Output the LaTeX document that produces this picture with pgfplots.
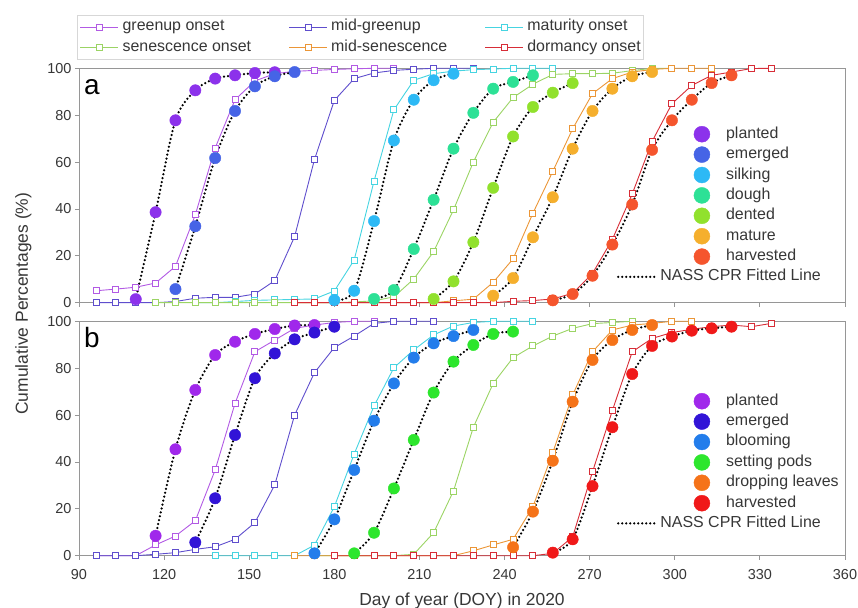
\documentclass[border=0pt]{standalone}
\usepackage{pgfplots}
\pgfplotsset{compat=1.18}
\usepackage{pgfplotstable}
\usepackage{fontspec}
\setmainfont{Liberation Sans}

\definecolor{cGO}{RGB}{178,90,228}
\definecolor{cMG}{RGB}{95,78,205}
\definecolor{cMO}{RGB}{70,212,225}
\definecolor{cSO}{RGB}{155,212,100}
\definecolor{cMS}{RGB}{235,150,55}
\definecolor{cDO}{RGB}{215,45,55}
% panel a circles
\definecolor{aPL}{RGB}{140,50,235}
\definecolor{aEM}{RGB}{70,100,230}
\definecolor{aSI}{RGB}{45,185,245}
\definecolor{aDO}{RGB}{45,225,150}
\definecolor{aDE}{RGB}{145,225,45}
\definecolor{aMA}{RGB}{245,175,45}
\definecolor{aHA}{RGB}{245,85,45}
% panel b circles
\definecolor{bPL}{RGB}{160,40,235}
\definecolor{bEM}{RGB}{50,20,215}
\definecolor{bBL}{RGB}{35,125,235}
\definecolor{bSP}{RGB}{45,230,45}
\definecolor{bDL}{RGB}{245,115,25}
\definecolor{bHA}{RGB}{240,25,25}
\definecolor{caxis}{RGB}{150,150,150}
\definecolor{ctick}{RGB}{55,55,55}

% ---------------- panel a: remote-sensing (squares) ----------------
\pgfplotstableread{
x y
96 5.1
103 5.8
110 6.6
117 8.4
124 15.5
131 37.5
138 66
145 86.6
152 94.6
159 97.7
166 98.7
173 99.1
180 99.5
187 99.8
194 100
201 100
}\aGO
\pgfplotstableread{
x y
96 0
103 0
110 0
117 0
124 0.5
131 1.9
138 2.3
145 2.3
152 3.7
159 9.4
166 28.2
173 61.1
180 86.3
187 95.6
194 98
201 99.1
208 99.6
215 100
222 100
229 100
}\aMG
\pgfplotstableread{
x y
131 0
138 0
145 0.5
152 1
159 1.2
166 1.4
173 1.6
180 5
187 18.2
194 51.9
201 82.3
208 94.9
215 97.7
222 98.8
229 99.4
236 99.7
243 100
250 100
257 100
}\aMO
\pgfplotstableread{
x y
117 0
124 0
131 0
138 0
145 0
152 0
159 0
166 0
173 0
180 0
187 0.3
194 0.8
201 2.5
208 10.1
215 21.8
222 39.6
229 60
236 77
243 87.5
250 93.2
257 97.4
264 97.7
271 97.7
278 97.9
285 99
292 100
299 100
}\aSO
\pgfplotstableread{
x y
166 0
173 0
180 0
187 0
194 0
201 0
208 0
215 0
222 0.8
229 1.5
236 8.7
243 18.7
250 38.2
257 56
264 74.2
271 89.2
278 95.6
285 98.4
292 99.5
299 100
306 100
313 100
}\aMS
\pgfplotstableread{
x y
166 0
173 0
180 0
187 0
194 0
201 0
208 0
215 0
222 0
229 0
236 0
243 0.6
250 0.9
257 1.6
264 4
271 12.5
278 27
285 46.4
292 68.8
299 84.9
306 92.7
313 97
320 98.4
327 99.9
334 100
}\aDOR
% ---------------- panel a: NASS (circles) ----------------
\pgfplotstableread{
x y
110 1.5
117 38.6
124 77.8
131 90.6
138 95.6
145 97
152 98
159 98.3
}\aPLt
\pgfplotstableread{
x y
124 5.8
131 32.6
138 61.7
145 81.8
152 92.3
159 96.6
166 98.4
}\aEMt
\pgfplotstableread{
x y
180 1.1
187 5.1
194 34.8
201 69.2
208 86.6
215 94.9
222 97.7
}\aSIt
\pgfplotstableread{
x y
194 1.6
201 5.4
208 22.9
215 43.9
222 65.7
229 81
236 91.3
243 94.2
250 97
}\aDOt
\pgfplotstableread{
x y
215 1.6
222 9.1
229 25.8
236 49
243 70.9
250 83.5
257 89.6
264 93.7
}\aDEt
\pgfplotstableread{
x y
236 3
243 10.5
250 27.9
257 45
264 65.7
271 81.8
278 91.3
285 96.6
292 98.4
}\aMAt
\pgfplotstableread{
x y
257 1
264 3.7
271 11.5
278 24.8
285 41.9
292 65.2
299 77.8
306 86.6
313 93.7
320 97
}\aHAt

% ---------------- panel b: remote-sensing (squares) ----------------
\pgfplotstableread{
x y
96 0
103 0
110 0
117 4.6
124 8.4
131 14.9
138 36.6
145 65
152 87
159 92
166 97
173 98.4
180 99.5
187 100
194 100
}\bGO
\pgfplotstableread{
x y
96 0
103 0
110 0
117 0.6
124 1.3
131 2.7
138 3.8
145 7
152 14.1
159 30.2
166 60
173 78.1
180 88.8
187 93.7
194 99.1
201 100
208 100
215 100
}\bMG
\pgfplotstableread{
x y
138 0
145 0
152 0
159 0
166 0
173 4.5
180 20.9
187 43.4
194 63.9
201 80.2
208 87.8
215 94.2
222 98
229 99.5
236 100
243 100
250 100
}\bMO
\pgfplotstableread{
x y
173 0
180 0
187 0
194 0
201 0
208 0.6
215 9.8
222 27.6
229 54.8
236 73.5
243 84.5
250 89.5
257 93.7
264 97
271 99
278 99.5
285 100
}\bSO
\pgfplotstableread{
x y
166 0
173 0
180 0
187 0
194 0
201 0
208 0
215 0
222 0
229 2.1
236 4.6
243 7
250 20.9
257 44
264 68.6
271 87
278 96.3
285 98.4
292 99.1
299 100
306 100
}\bMS
\pgfplotstableread{
x y
180 0
187 0
194 0
201 0
208 0
215 0
222 0
229 0
236 0
243 0
250 0
257 1
264 8
271 35.8
278 61.9
285 87
292 92.7
299 95.2
306 96.6
313 97.7
320 98.4
327 97.7
334 99.1
}\bDOR
% ---------------- panel b: NASS (circles) ----------------
\pgfplotstableread{
x y
117 8.5
124 45.4
131 70.7
138 85.6
145 91.3
152 94.6
159 96.7
166 98.2
173 98.4
}\bPLt
\pgfplotstableread{
x y
131 5.7
138 24.5
145 51.5
152 75.7
159 86.3
166 92.3
173 95.2
180 97.7
}\bEMt
\pgfplotstableread{
x y
173 1
180 15.5
187 36.6
194 57.6
201 73.5
208 84.5
215 90.6
222 93.7
229 96.3
}\bBLt
\pgfplotstableread{
x y
187 1
194 9.8
201 28.7
208 49.4
215 69.6
222 82.8
229 89.9
236 94.6
243 95.6
}\bSPt
\pgfplotstableread{
x y
243 3.6
250 18.8
257 40.5
264 65.7
271 83.5
278 92
285 96.3
292 98.4
}\bDLt
\pgfplotstableread{
x y
257 1.3
264 7
271 29.7
278 54.8
285 77.5
292 89.5
299 93.5
306 96
313 97
320 97.7
}\bHAt

\pgfplotsset{
  panel/.style={
    width=766bp, height=234.4bp, scale only axis,
    xmin=90, xmax=360, ymin=0, ymax=100,
    xtick={90,120,...,360}, ytick={0,20,...,100},
    axis line style={caxis, line width=0.8bp},
    tick style={caxis, line width=0.8bp},
    major tick length=4bp, tick align=outside,
    xtick pos=bottom, ytick pos=left,
    every tick label/.append style={font=\fontsize{14.5}{16}\selectfont, text=ctick},
    xticklabel style={yshift=-6bp},
    /pgf/number format/assume math mode=true,
    clip=false,
    legend style={draw=none, fill=none, inner sep=0pt, outer sep=0pt,
      font=\fontsize{16}{18}\selectfont, text=ctick,
      nodes={inner sep=0pt, text height=12bp, text depth=4bp},
      row sep=4bp, column sep=16bp},
    legend cell align=left,
  },
  sq/.style={line width=0.9bp, mark=square*, mark size=3bp,
    mark options={fill=white, solid, line width=0.9bp}},
  ci/.style={only marks, mark=*, mark size=5.7bp, mark options={draw=none}},
  nass/.style={smooth, black, line width=2.5bp, dash pattern=on 0bp off 4bp,
    line cap=round, no marks},
  cimg/.style={legend image code/.code={\fill[#1] (0bp,0bp) circle[radius=8bp];}},
  nassimg/.style={legend image code/.code={\path[draw=none, fill=none] (-8bp,-8bp) rectangle (8bp,8bp);
    \draw[overlay, black, line width=2.5bp, dash pattern=on 0bp off 4bp, line cap=round] (-83.7bp,0bp) -- (-44.7bp,0bp);}},
}

\begin{document}
\begin{tikzpicture}
% ---------------- panel b ----------------
\begin{axis}[panel, name=pb, at={(0,0)}, anchor=south west,
  xlabel={Day of year (DOY) in 2020},
  xlabel style={font=\fontsize{17.5}{20}\selectfont, text=ctick,
    at={(rel axis cs:0.5,0)}, anchor=base, yshift=-50bp},
  legend style={at={(rel axis cs:0.8025,0.6941)}, anchor=north west},
]
\addplot[sq, color=cGO, forget plot] table {\bGO};
\addplot[sq, color=cMG, forget plot] table {\bMG};
\addplot[sq, color=cMO, forget plot] table {\bMO};
\addplot[sq, color=cSO, forget plot] table {\bSO};
\addplot[sq, color=cMS, forget plot] table {\bMS};
\addplot[sq, color=cDO, forget plot] table {\bDOR};
\addplot[ci, color=bPL, forget plot] table {\bPLt};
\addplot[ci, color=bEM, forget plot] table {\bEMt};
\addplot[ci, color=bBL, forget plot] table {\bBLt};
\addplot[ci, color=bSP, forget plot] table {\bSPt};
\addplot[ci, color=bDL, forget plot] table {\bDLt};
\addplot[ci, color=bHA, forget plot] table {\bHAt};
\addplot[nass, forget plot] table {\bPLt};
\addplot[nass, forget plot] table {\bEMt};
\addplot[nass, forget plot] table {\bBLt};
\addplot[nass, forget plot] table {\bSPt};
\addplot[nass, forget plot] table {\bDLt};
\addplot[nass, forget plot] table {\bHAt};
\addlegendimage{cimg=bPL}\addlegendentry{planted}
\addlegendimage{cimg=bEM}\addlegendentry{emerged}
\addlegendimage{cimg=bBL}\addlegendentry{blooming}
\addlegendimage{cimg=bSP}\addlegendentry{setting pods}
\addlegendimage{cimg=bDL}\addlegendentry{dropping leaves}
\addlegendimage{cimg=bHA}\addlegendentry{harvested}
\addlegendimage{nassimg}
\addlegendentry{\hspace*{-65.7bp}NASS CPR Fitted Line}
\node[anchor=base west, font=\fontsize{28}{30}\selectfont, inner sep=0pt] at (rel axis cs:0,1) [xshift=5bp, yshift=-26.7bp] {b};
\end{axis}
% ---------------- panel a ----------------
\begin{axis}[panel, name=pa, at={(0,253bp)}, anchor=south west,
  xticklabels={},
  legend style={at={(rel axis cs:0.8025,0.7538)}, anchor=north west},
]
\addplot[sq, color=cGO, forget plot] table {\aGO};
\addplot[sq, color=cMG, forget plot] table {\aMG};
\addplot[sq, color=cMO, forget plot] table {\aMO};
\addplot[sq, color=cSO, forget plot] table {\aSO};
\addplot[sq, color=cMS, forget plot] table {\aMS};
\addplot[sq, color=cDO, forget plot] table {\aDOR};
\addplot[ci, color=aPL, forget plot] table {\aPLt};
\addplot[ci, color=aEM, forget plot] table {\aEMt};
\addplot[ci, color=aSI, forget plot] table {\aSIt};
\addplot[ci, color=aDO, forget plot] table {\aDOt};
\addplot[ci, color=aDE, forget plot] table {\aDEt};
\addplot[ci, color=aMA, forget plot] table {\aMAt};
\addplot[ci, color=aHA, forget plot] table {\aHAt};
\addplot[nass, forget plot] table {\aPLt};
\addplot[nass, forget plot] table {\aEMt};
\addplot[nass, forget plot] table {\aSIt};
\addplot[nass, forget plot] table {\aDOt};
\addplot[nass, forget plot] table {\aDEt};
\addplot[nass, forget plot] table {\aMAt};
\addplot[nass, forget plot] table {\aHAt};
\addlegendimage{cimg=aPL}\addlegendentry{planted}
\addlegendimage{cimg=aEM}\addlegendentry{emerged}
\addlegendimage{cimg=aSI}\addlegendentry{silking}
\addlegendimage{cimg=aDO}\addlegendentry{dough}
\addlegendimage{cimg=aDE}\addlegendentry{dented}
\addlegendimage{cimg=aMA}\addlegendentry{mature}
\addlegendimage{cimg=aHA}\addlegendentry{harvested}
\addlegendimage{nassimg}
\addlegendentry{\hspace*{-65.7bp}NASS CPR Fitted Line}
\node[anchor=base west, font=\fontsize{28}{30}\selectfont, inner sep=0pt] at (rel axis cs:0,1) [xshift=5bp, yshift=-26.7bp] {a};
\end{axis}
% ---------------- top legend (hidden axis) ----------------
\begin{axis}[panel, at={(0,253bp)}, anchor=south west, hide axis,
  legend columns=3,
  legend image code/.code={\draw[mark repeat=2,mark phase=2,#1] plot coordinates {(0bp,0bp) (19bp,0bp) (38bp,0bp)};},
  legend style={at={(rel axis cs:-0.0022,1.2274)}, anchor=north west,
    draw={rgb,255:red,215;green,215;blue,215}, line width=0.8bp, fill=white,
    inner xsep=2.7bp, inner ysep=4bp, row sep=4.4bp, column sep=3.7bp,
    /tikz/every even column/.append style={column sep=37.5bp}},
]
\addlegendimage{sq, color=cGO}\addlegendentry{greenup onset}
\addlegendimage{sq, color=cMG}\addlegendentry{mid-greenup}
\addlegendimage{sq, color=cMO}\addlegendentry{maturity onset}
\addlegendimage{sq, color=cSO}\addlegendentry{senescence onset}
\addlegendimage{sq, color=cMS}\addlegendentry{mid-senescence}
\addlegendimage{sq, color=cDO}\addlegendentry{dormancy onset}
\end{axis}
\node[rotate=90, anchor=base, font=\fontsize{17.5}{20}\selectfont, text=ctick] at (-51bp,252bp) {Cumulative Percentages (\%)};
\pgfresetboundingbox
\path[use as bounding box] (-79bp,-52.3bp) rectangle (779bp,555.7bp);
\end{tikzpicture}
\end{document}
